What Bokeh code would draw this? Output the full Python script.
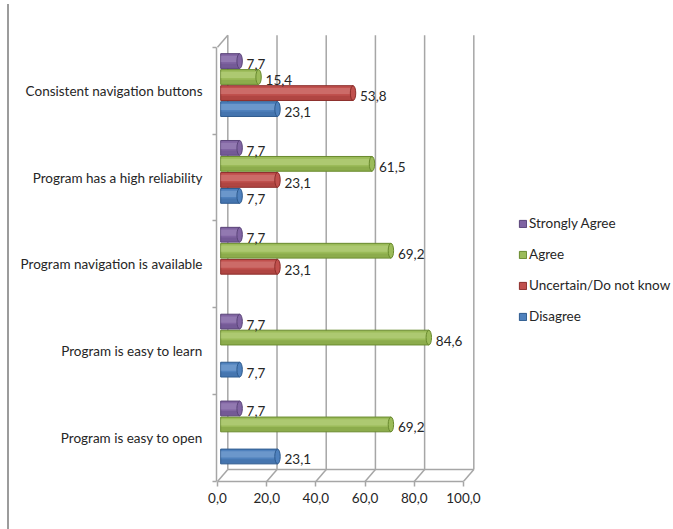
from bokeh.plotting import figure
from bokeh.models import (Range1d, FixedTicker, ColumnDataSource, Legend,
                          LegendItem, InlineStyleSheet)
from bokeh.transform import dodge
from bokeh.core.properties import value
from bokeh.embed import file_html
from bokeh.resources import INLINE

# ---- data -------------------------------------------------------------
categories = [
    "Program is easy to open",
    "Program is easy to learn",
    "Program navigation is available",
    "Program has a high reliability",
    "Consistent navigation buttons",
]
disagree = [23.1, 7.7, None, 7.7, 23.1]
uncertain = [None, None, 23.1, 23.1, 53.8]
agree = [69.2, 84.6, 69.2, 61.5, 15.4]
strongly_agree = [7.7, 7.7, 7.7, 7.7, 7.7]

x_ticks = [0, 20, 40, 60, 80, 100]
x_tick_labels = ["0,0", "20,0", "40,0", "60,0", "80,0", "100,0"]

# ---- styling ----------------------------------------------------------
FONT = "Lato"
FSIZE = "13.5px"
TEXT = "#262626"
WALL = "#a6a6a6"
DX, DY = 4.2, 0.138        # depth offset of the back wall (data units)
BAR_X0 = 1.3               # bars sit a little behind the front plane
BAR_H = 0.17
CAP_W = 2.2

# name, values, base, dark, light, slot offset inside the category band
series = [
    ("Disagree", disagree, "#4F81BD", "#2d5a8e", "#8fb1dc", 0.288),
    ("Uncertain/Do not know", uncertain, "#C0504D", "#8c2d2a", "#dc8c89", 0.472),
    ("Agree", agree, "#9BBB59", "#698a2e", "#c3db8f", 0.657),
    ("Strongly Agree", strongly_agree, "#8064A2", "#5a4479", "#a893c4", 0.841),
]

# chart-area frame: a top and a left edge only
frame_css = InlineStyleSheet(css="""
:host::before, :host::after {
  content: "";
  position: absolute;
  left: 7px; top: 4px;
  background: #9c9c9c;
  pointer-events: none;
}
:host::before { width: calc(100% - 7px); height: 2px; }
:host::after { width: 2px; height: calc(100% - 4px); }
""")

p = figure(width=673, height=529, output_backend="svg", toolbar_location=None,
           x_range=Range1d(-0.4, -0.4 + 457 / 2.46), y_range=Range1d(0, 5.25),
           min_border_left=216, min_border_right=0, min_border_top=25,
           min_border_bottom=48, stylesheets=[frame_css])
p.outline_line_color = None
p.xgrid.visible = False
p.ygrid.visible = False
p.background_fill_color = "white"
p.border_fill_color = "white"

# ---- 3D walls -----------------------------------------------------------
n = len(categories)
p.segment(x0=[t + DX for t in x_ticks], y0=[DY] * len(x_ticks),
          x1=[t + DX for t in x_ticks], y1=[n + DY] * len(x_ticks),
          line_color=WALL, line_width=1.5)
p.segment(x0=x_ticks, y0=[0] * len(x_ticks),
          x1=[t + DX for t in x_ticks], y1=[DY] * len(x_ticks),
          line_color=WALL, line_width=1.5)
p.segment(x0=[x_ticks[0] + DX, x_ticks[0]], y0=[DY, n],
          x1=[x_ticks[-1] + DX, x_ticks[0] + DX], y1=[DY, n + DY],
          line_color=WALL, line_width=1.5)

# ---- bars -------------------------------------------------------------
def fmt(v):
    return f"{v:.1f}".replace(".", ",")

sources = {}
bodies = {}
for name, vals, base, dark, light, slot in series:
    idx = [i for i, v in enumerate(vals) if v is not None]
    src = ColumnDataSource(dict(
        y=[i + slot for i in idx],
        v=[vals[i] for i in idx],
        lab=[fmt(vals[i]) for i in idx],
    ))
    sources[name] = src
    end = dodge("v", BAR_X0)
    bodies[name] = p.hbar(y="y", left=BAR_X0, right=end, height=BAR_H,
                          source=src, fill_color=base, line_color=dark,
                          line_width=1)
    # cylinder shading: soft highlight above, darker rim below
    p.hbar(y=dodge("y", BAR_H * 0.14), left=BAR_X0, right=end,
           height=BAR_H * 0.42, source=src, fill_color=light,
           fill_alpha=0.45, line_color=None)
    p.hbar(y=dodge("y", -BAR_H * 0.33), left=BAR_X0, right=end,
           height=BAR_H * 0.3, source=src, fill_color=dark,
           fill_alpha=0.3, line_color=None)
    p.ellipse(x=end, y="y", width=CAP_W, height=BAR_H, source=src,
              fill_color=base, line_color=dark, line_width=1)

for name, *_ in series:
    p.text(x=dodge("v", BAR_X0), y="y", text="lab", source=sources[name],
           x_offset=7, y_offset=3, text_baseline="middle", text_align="left",
           text_font=value(FONT), text_font_size=FSIZE, text_color=TEXT)

# ---- axes -------------------------------------------------------------
xa = p.xaxis[0]
xa.ticker = FixedTicker(ticks=x_ticks, minor_ticks=[])
xa.major_label_overrides = {t: lab for t, lab in zip(x_ticks, x_tick_labels)}
xa.bounds = (x_ticks[0], x_ticks[-1])
xa.axis_line_color = WALL
xa.axis_line_width = 1.5
xa.major_tick_line_color = WALL
xa.major_tick_line_width = 1.5
xa.major_tick_out = 5
xa.major_tick_in = 0
xa.major_label_standoff = 6
xa.major_label_text_font = FONT
xa.major_label_text_font_size = FSIZE
xa.major_label_text_color = TEXT

ya = p.yaxis[0]
centers = [i + 0.5 for i in range(n)]
ya.ticker = FixedTicker(ticks=centers, minor_ticks=list(range(n + 1)))
ya.major_label_overrides = {c: lab for c, lab in zip(centers, categories)}
ya.bounds = (0, n)
ya.axis_line_color = WALL
ya.axis_line_width = 1.5
ya.major_tick_out = 0
ya.major_tick_in = 0
ya.minor_tick_line_color = WALL
ya.minor_tick_line_width = 1.5
ya.minor_tick_out = 4
ya.minor_tick_in = 0
ya.major_label_standoff = 10
ya.major_label_text_font = FONT
ya.major_label_text_font_size = FSIZE
ya.major_label_text_color = TEXT

# ---- legend -----------------------------------------------------------
items = [LegendItem(label=name, renderers=[bodies[name]])
         for name, *_ in reversed(series)]
legend = Legend(items=items, location=(302, 157), orientation="vertical",
                glyph_width=9, glyph_height=9, label_height=14,
                spacing=15, padding=0, margin=0, label_standoff=2,
                label_text_font=FONT, label_text_font_size=FSIZE,
                label_text_color=TEXT, border_line_color=None,
                background_fill_alpha=0)
p.add_layout(legend)

open("out.html", "w").write(file_html(p, INLINE))
